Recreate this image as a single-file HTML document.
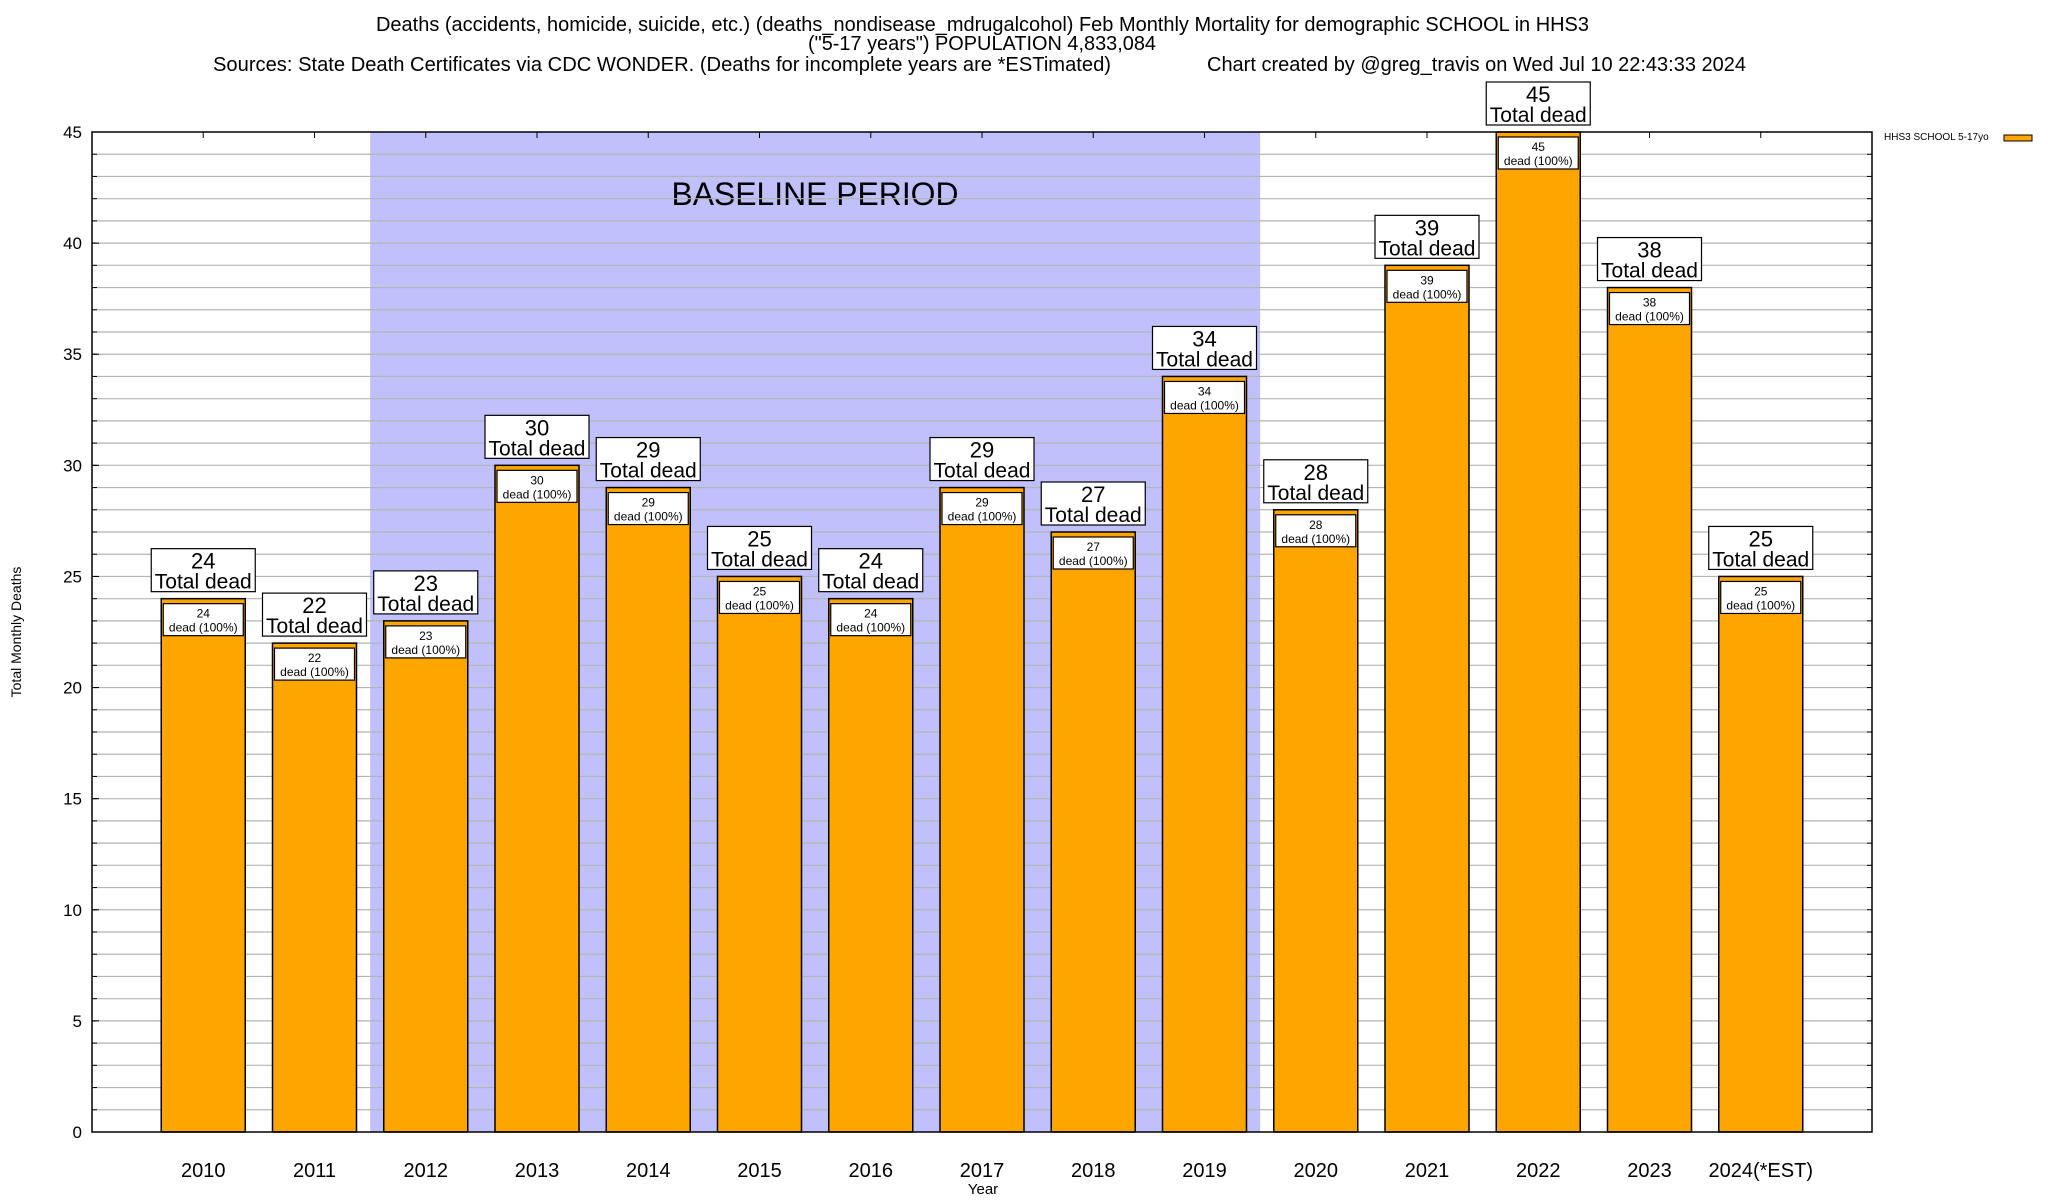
<!DOCTYPE html>
<html><head><meta charset="utf-8"><style>
html,body{margin:0;padding:0;background:#fff}
svg{display:block;font-family:"Liberation Sans",sans-serif}
</style></head><body>
<svg id="chart" width="2048" height="1200" viewBox="0 0 2048 1200" xmlns="http://www.w3.org/2000/svg">
<g>
<text x="376" y="31" font-size="20" textLength="1213" lengthAdjust="spacingAndGlyphs">Deaths (accidents, homicide, suicide, etc.) (deaths_nondisease_mdrugalcohol) Feb Monthly Mortality for demographic SCHOOL in HHS3</text>
<text x="808" y="50" font-size="20" textLength="348" lengthAdjust="spacingAndGlyphs">("5-17 years") POPULATION 4,833,084</text>
<text x="213" y="71" font-size="20" textLength="898" lengthAdjust="spacingAndGlyphs">Sources: State Death Certificates via CDC WONDER. (Deaths for incomplete years are *ESTimated)</text>
<text x="1207" y="71" font-size="20" textLength="539" lengthAdjust="spacingAndGlyphs">Chart created by @greg_travis on Wed Jul 10 22:43:33 2024</text>
</g>
<g id="plot"></g>
<g>
<text x="1884" y="140" font-size="10">HHS3 SCHOOL 5-17yo</text>
<rect x="2004" y="135" width="28" height="6" fill="#ffa500" stroke="#000" stroke-width="1"/>
</g>
<text transform="translate(21,632) rotate(-90)" text-anchor="middle" font-size="14">Total Monthly Deaths</text>
<text x="983" y="1194" text-anchor="middle" font-size="15">Year</text>
</svg>
<script>
const categories = ["2010","2011","2012","2013","2014","2015","2016","2017","2018","2019","2020","2021","2022","2023","2024(*EST)"];
const deaths = [24,22,23,30,29,25,24,29,27,34,28,39,45,38,25];
const yTicks = [0,5,10,15,20,25,30,35,40,45];
const baselineStart = "2012", baselineEnd = "2019";

const NS = "http://www.w3.org/2000/svg";
const L = 92, R = 1872, T = 132, B = 1132;
const yMax = 45;
const xs = i => L + (i + 1) * (R - L) / 16;
const ys = v => B - v * (B - T) / yMax;
const g = document.getElementById('plot');
function mk(tag, attrs, parent) {
  const e = document.createElementNS(NS, tag);
  for (const k in attrs) e.setAttribute(k, attrs[k]);
  (parent || g).appendChild(e);
  return e;
}
const bs = categories.indexOf(baselineStart), be = categories.indexOf(baselineEnd);
const shade = mk('rect', {x: xs(bs - 0.5), y: T, width: xs(be + 0.5) - xs(bs - 0.5), height: B - T, fill: '#c0c0fc'});


const bl = mk('text', {x: 815, y: 205, 'text-anchor': 'middle', 'font-size': 32, textLength: 287, lengthAdjust: 'spacingAndGlyphs'});
bl.textContent = 'BASELINE PERIOD';


for (let v = 1; v < yMax; v++) {
  const ln = mk('line', {x1: L, x2: R, y1: ys(v), y2: ys(v), stroke: '#b4b4b4', 'stroke-width': 1.2});
  
  
  mk('line', {x1: L, x2: L + 5, y1: ys(v), y2: ys(v), stroke: '#000'});
  mk('line', {x1: R, x2: R - 5, y1: ys(v), y2: ys(v), stroke: '#000'});
}
yTicks.forEach(v => {
  mk('line', {x1: L, x2: L + 7, y1: ys(v), y2: ys(v), stroke: '#000'});
  const t = mk('text', {x: 82, y: ys(v) + 6, 'text-anchor': 'end', 'font-size': 17});
  t.textContent = v;
  
  
});
const bw = 84;
categories.forEach((c, i) => {
  const cx = xs(i), v = deaths[i], top = ys(v);
  mk('line', {x1: cx, x2: cx, y1: T, y2: T + 6, stroke: '#000'});
  const bar = mk('rect', {x: cx - bw / 2, y: top, width: bw, height: B - top, fill: '#ffa500', stroke: '#000', 'stroke-width': 1.5});
  
  
  const ib = mk('rect', {x: cx - 40, y: top + 5, width: 80, height: 32, fill: '#fff', stroke: '#000', 'stroke-width': 1.2});
  
  
  const t1 = mk('text', {x: cx, y: top + 19, 'text-anchor': 'middle', 'font-size': 12});
  t1.textContent = v;
  
  
  const t2 = mk('text', {x: cx, y: top + 33, 'text-anchor': 'middle', 'font-size': 12});
  t2.textContent = 'dead (100%)';
  
  
  const ob = mk('rect', {x: cx - 52, y: top - 50, width: 104, height: 43, fill: '#fff', stroke: '#000', 'stroke-width': 1.2});
  
  
  const o1 = mk('text', {x: cx, y: top - 30, 'text-anchor': 'middle', 'font-size': 22});
  o1.textContent = v;
  
  
  const o2 = mk('text', {x: cx, y: top - 10, 'text-anchor': 'middle', 'font-size': 21});
  o2.textContent = 'Total dead';
  
  
  const xl = mk('text', {x: cx, y: 1177, 'text-anchor': 'middle', 'font-size': 20});
  xl.textContent = c;
  
  
});
const frame = mk('rect', {x: L, y: T, width: R - L, height: B - T, fill: 'none', stroke: '#000', 'stroke-width': 1.5});


</script>
</body></html>
